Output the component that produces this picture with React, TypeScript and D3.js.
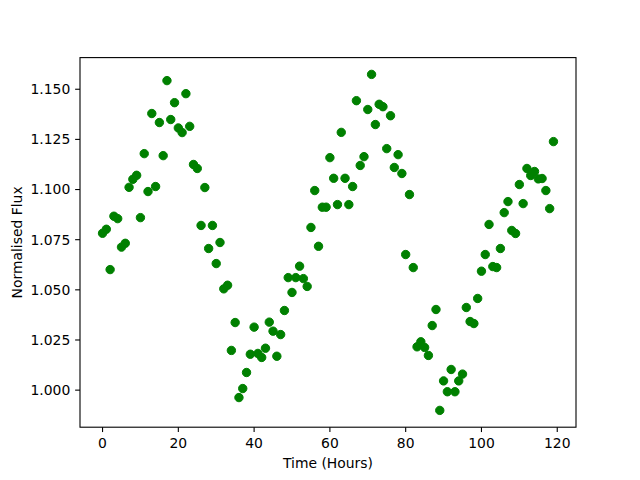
import { useMemo } from 'react'
import * as d3 from 'd3'

const WIDTH = 640
const HEIGHT = 480
const MARGIN = { top: 57.6, right: 64, bottom: 52.8, left: 80 }

// hour index is the position in the list
const hours = d3.range(0, 120)
const flux = [
  1.0782, 1.0802, 1.0601, 1.0867, 1.0855, 1.0713, 1.0732, 1.1011, 1.1051, 1.1071,
  1.0860, 1.1179, 1.0990, 1.1379, 1.1015, 1.1334, 1.1169, 1.1543, 1.1349, 1.1433,
  1.1307, 1.1284, 1.1478, 1.1315, 1.1125, 1.1105, 1.0821, 1.1010, 1.0706, 1.0821,
  1.0631, 1.0736, 1.0505, 1.0523, 1.0198, 1.0337, 0.9963, 1.0008, 1.0088, 1.0179,
  1.0314, 1.0183, 1.0163, 1.0209, 1.0339, 1.0294, 1.0169, 1.0277, 1.0397, 1.0561,
  1.0487, 1.0561, 1.0618, 1.0556, 1.0517, 1.0811, 1.0995, 1.0717, 1.0912, 1.0912,
  1.1159, 1.1056, 1.0925, 1.1285, 1.1056, 1.0925, 1.1015, 1.1443, 1.1120, 1.1164,
  1.1399, 1.1574, 1.1324, 1.1425, 1.1413, 1.1204, 1.1368, 1.1110, 1.1174, 1.1080,
  1.0676, 1.0975, 1.0611, 1.0216, 1.0241, 1.0213, 1.0173, 1.0322, 1.0402, 0.9899,
  1.0046, 0.9992, 1.0103, 0.9992, 1.0046, 1.0080, 1.0412, 1.0342, 1.0332, 1.0457,
  1.0593, 1.0676, 1.0826, 1.0616, 1.0611, 1.0706, 1.0885, 1.0940, 1.0796, 1.0781,
  1.1025, 1.0930, 1.1105, 1.1070, 1.1090, 1.1053, 1.1055, 1.0995, 1.0905, 1.1239,
]
const xTicks = [0, 20, 40, 60, 80, 100, 120]
const yTicks = [1.0, 1.025, 1.05, 1.075, 1.1, 1.125, 1.15]

const FONT = 'DejaVu Sans, sans-serif'
const TICK = 4.86

export default function App() {
  const innerWidth = WIDTH - MARGIN.left - MARGIN.right
  const innerHeight = HEIGHT - MARGIN.top - MARGIN.bottom

  const { xScale, yScale } = useMemo(() => {
    const [x0, x1] = d3.extent(hours) as [number, number]
    const [y0, y1] = d3.extent(flux) as [number, number]
    const xPad = (x1 - x0) * 0.05
    const yPad = (y1 - y0) * 0.05
    return {
      xScale: d3.scaleLinear().domain([x0 - xPad, x1 + xPad]).range([0, innerWidth]),
      yScale: d3.scaleLinear().domain([y0 - yPad, y1 + yPad]).range([innerHeight, 0]),
    }
  }, [innerWidth, innerHeight])

  return (
    <div style={{ position: 'absolute', left: 0, top: 0 }}>
      <svg width={WIDTH} height={HEIGHT} style={{ display: 'block', background: 'white' }}>
        <g transform={`translate(${MARGIN.left}, ${MARGIN.top})`}>
          {/* Points */}
          {hours.map((h, i) => (
            <circle
              key={h}
              cx={xScale(h)}
              cy={yScale(flux[i])}
              r={4.2}
              fill="#008000"
              stroke="#008000"
              strokeWidth={1}
            />
          ))}

          {/* Frame */}
          <rect
            x={0}
            y={0}
            width={innerWidth}
            height={innerHeight}
            fill="none"
            stroke="black"
            strokeWidth={1.1}
          />

          {/* X axis */}
          {xTicks.map(t => (
            <g key={t} transform={`translate(${xScale(t)}, ${innerHeight})`}>
              <line y1={0} y2={TICK} stroke="black" strokeWidth={1.1} />
              <text
                y={TICK + 4.86 + 11}
                textAnchor="middle"
                fontFamily={FONT}
                fontSize={13.9}
                fill="black"
              >
                {t}
              </text>
            </g>
          ))}
          <text
            x={innerWidth / 2}
            y={innerHeight + 41}
            textAnchor="middle"
            fontFamily={FONT}
            fontSize={13.9}
            fill="black"
          >
            Time (Hours)
          </text>

          {/* Y axis */}
          {yTicks.map(t => (
            <g key={t} transform={`translate(0, ${yScale(t)})`}>
              <line x1={-TICK} x2={0} stroke="black" strokeWidth={1.1} />
              <text
                x={-TICK - 4.86}
                dy="0.35em"
                textAnchor="end"
                fontFamily={FONT}
                fontSize={13.9}
                fill="black"
              >
                {t.toFixed(3)}
              </text>
            </g>
          ))}
          <text
            transform={`translate(${-MARGIN.left + 22}, ${innerHeight / 2}) rotate(-90)`}
            textAnchor="middle"
            fontFamily={FONT}
            fontSize={13.9}
            fill="black"
          >
            Normalised Flux
          </text>
        </g>
      </svg>
    </div>
  )
}
